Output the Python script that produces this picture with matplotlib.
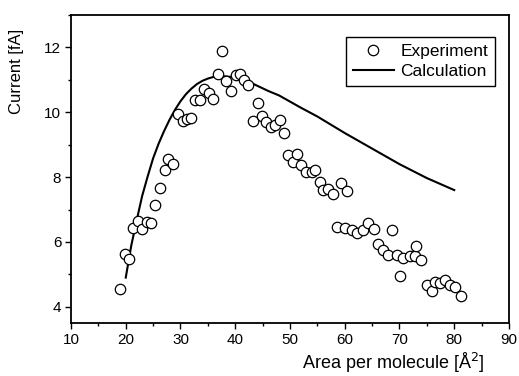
import matplotlib
matplotlib.use('Agg')
import matplotlib.pyplot as plt
from matplotlib.ticker import MultipleLocator

plt.rcParams['font.family'] = ['Liberation Sans', 'DejaVu Sans']

# experiment (open circles)
exp_x = [18.95, 19.86, 20.6, 21.3, 22.2, 23.0, 23.9, 24.6, 25.4, 26.3,
         27.1, 27.8, 28.7, 29.5, 30.4, 31.2, 32.0, 32.7, 33.5, 34.3,
         35.2, 36.0, 36.8, 37.6, 38.4, 39.2, 40.1, 40.9, 41.6, 42.4,
         43.3, 44.1, 44.9, 45.7, 46.5, 47.3, 48.1, 48.9, 49.7, 50.6,
         51.3, 52.1, 53.0, 53.95, 54.6, 55.5, 56.1, 57.0, 57.8, 58.5,
         59.4, 60.0, 60.4, 61.3, 62.2, 63.4, 64.3, 65.4, 66.1, 67.0,
         67.9, 68.6, 69.5, 70.1, 70.7, 71.9, 72.8, 73.0, 74.0, 75.0,
         75.9, 76.5, 77.4, 78.3, 79.2, 80.1, 81.3]
exp_y = [4.56, 5.62, 5.47, 6.43, 6.65, 6.41, 6.61, 6.59, 7.15, 7.67,
         8.21, 8.57, 8.41, 9.95, 9.73, 9.79, 9.82, 10.38, 10.37, 10.73,
         10.58, 10.41, 11.18, 11.90, 10.95, 10.66, 11.15, 11.17, 10.99, 10.83,
         9.73, 10.28, 9.90, 9.69, 9.54, 9.60, 9.76, 9.35, 8.67, 8.46,
         8.71, 8.37, 8.16, 8.16, 8.21, 7.85, 7.60, 7.62, 7.49, 6.46,
         7.82, 6.43, 7.56, 6.36, 6.29, 6.36, 6.59, 6.41, 5.93, 5.74,
         5.59, 6.36, 5.59, 4.94, 5.49, 5.56, 5.56, 5.88, 5.44, 4.66,
         4.49, 4.77, 4.74, 4.82, 4.66, 4.62, 4.32]

# calculation (solid line)
calc_x = [20, 21, 22, 23, 24, 25, 26, 27, 28, 29, 30, 31, 32, 33, 34, 35,
          36, 38, 40, 42, 44, 46, 48, 50, 52, 55, 60, 65, 70, 75, 80]
calc_y = [4.9, 5.88, 6.67, 7.42, 8.02, 8.58, 9.03, 9.42, 9.77, 10.08, 10.34,
          10.56, 10.73, 10.87, 10.97, 11.04, 11.09, 11.11, 11.08, 10.98, 10.82,
          10.66, 10.52, 10.33, 10.14, 9.87, 9.36, 8.88, 8.4, 7.97, 7.6]

fig = plt.figure(figsize=(5.19, 3.76), dpi=100)
ax = fig.add_axes([0.1368, 0.141, 0.8439, 0.819])

ax.plot(exp_x, exp_y, 'o', mfc='white', mec='black', ms=7.5, mew=0.9,
        label='Experiment', zorder=3)
ax.plot(calc_x, calc_y, '-', color='black', lw=1.5, label='Calculation',
        zorder=2)

ax.set_xlim(10, 90)
ax.set_ylim(3.5, 13)
ax.xaxis.set_major_locator(MultipleLocator(10))
ax.xaxis.set_minor_locator(MultipleLocator(5))
ax.yaxis.set_major_locator(MultipleLocator(2))
ax.yaxis.set_minor_locator(MultipleLocator(1))
ax.tick_params(which='major', length=4, width=1, labelsize=11, pad=3)
ax.tick_params(which='minor', length=2.5, width=1)
for s in ax.spines.values():
    s.set_linewidth(1.3)

ax.set_xlabel('Area per molecule [Å$^2$]', fontsize=13)
ax.xaxis.set_label_coords(0.736, -0.09)
fig.text(17 / 519, 1 - 71 / 376, 'Current [fA]', rotation=90,
         ha='center', va='center', fontsize=12)

leg = ax.legend(loc='upper right', bbox_to_anchor=(0.968, 0.929),
                borderaxespad=0, fancybox=False, edgecolor='black',
                framealpha=1, fontsize=12.5, handlelength=2.4,
                handletextpad=0.35, borderpad=0.4, labelspacing=0.3)
leg.get_frame().set_linewidth(1.0)

fig.savefig('out.png', dpi=100)
